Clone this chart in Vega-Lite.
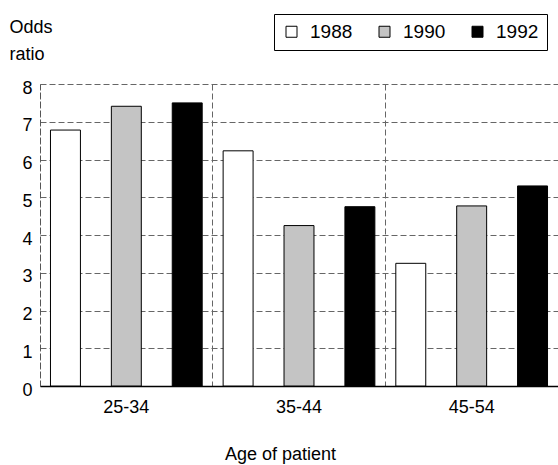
{
  "$schema": "https://vega.github.io/schema/vega-lite/v6.json",
  "width": 518,
  "height": 302,
  "autosize": "none",
  "padding": {"left": 40, "top": 84, "right": 0, "bottom": 79},
  "background": "white",
  "config": {"font": "Liberation Sans", "view": {"stroke": null}},
  "data": {"values": [
    {"age": "25-34", "year": "1988", "odds": 6.78},
    {"age": "25-34", "year": "1990", "odds": 7.41},
    {"age": "25-34", "year": "1992", "odds": 7.5},
    {"age": "35-44", "year": "1988", "odds": 6.23},
    {"age": "35-44", "year": "1990", "odds": 4.25},
    {"age": "35-44", "year": "1992", "odds": 4.75},
    {"age": "45-54", "year": "1988", "odds": 3.25},
    {"age": "45-54", "year": "1990", "odds": 4.77},
    {"age": "45-54", "year": "1992", "odds": 5.3}
  ]},
  "mark": {"type": "bar", "stroke": "black", "strokeWidth": 1},
  "encoding": {
    "x": {
      "field": "age", "type": "nominal", "sort": ["25-34", "35-44", "45-54"],
      "scale": {"paddingInner": 0, "paddingOuter": 0},
      "axis": {
        "title": "Age of patient", "labelAngle": 0, "labelFontSize": 18, "labelColor": "black",
        "labelPadding": 12, "ticks": false, "domainColor": "black", "domainWidth": 1.5,
        "grid": true, "bandPosition": 0, "gridDash": [6, 3], "gridColor": "#666", "gridWidth": 1,
        "titleFontSize": 18, "titleFontWeight": "normal", "titleColor": "black",
        "titleX": 240, "titleY": 73, "titleAlign": "center", "titleBaseline": "alphabetic"
      }
    },
    "xOffset": {
      "field": "year", "type": "nominal",
      "scale": {"paddingInner": 0.508, "paddingOuter": 0.172}
    },
    "y": {
      "field": "odds", "type": "quantitative",
      "scale": {"domain": [0, 8], "nice": false},
      "axis": {
        "values": [0, 1, 2, 3, 4, 5, 6, 7, 8],
        "title": ["Odds", "ratio"], "titleAngle": 0, "titleAlign": "left", "titleBaseline": "alphabetic",
        "titleX": -31, "titleY": -52, "titleLineHeight": 27, "titleFontSize": 18,
        "titleFontWeight": "normal", "titleColor": "black",
        "labelFontSize": 18, "labelColor": "black", "labelPadding": 8, "labelOffset": 4,
        "ticks": false, "domainColor": "#555", "domainDash": [6, 3],
        "grid": true, "gridDash": [6, 3], "gridColor": "#666", "gridWidth": 1
      }
    },
    "color": {
      "field": "year", "type": "nominal",
      "scale": {"range": ["white", "#c4c4c4", "black"]},
      "legend": {
        "orient": "none", "legendX": 234, "legendY": -70, "direction": "horizontal",
        "title": null, "labelFontSize": 19, "labelColor": "black", "labelOffset": 9,
        "symbolType": "square", "symbolSize": 121, "symbolStrokeColor": "black",
        "symbolStrokeWidth": 1, "symbolOpacity": 1,
        "strokeColor": "black", "fillColor": "white", "padding": 8, "columnPadding": 22
      }
    }
  }
}
